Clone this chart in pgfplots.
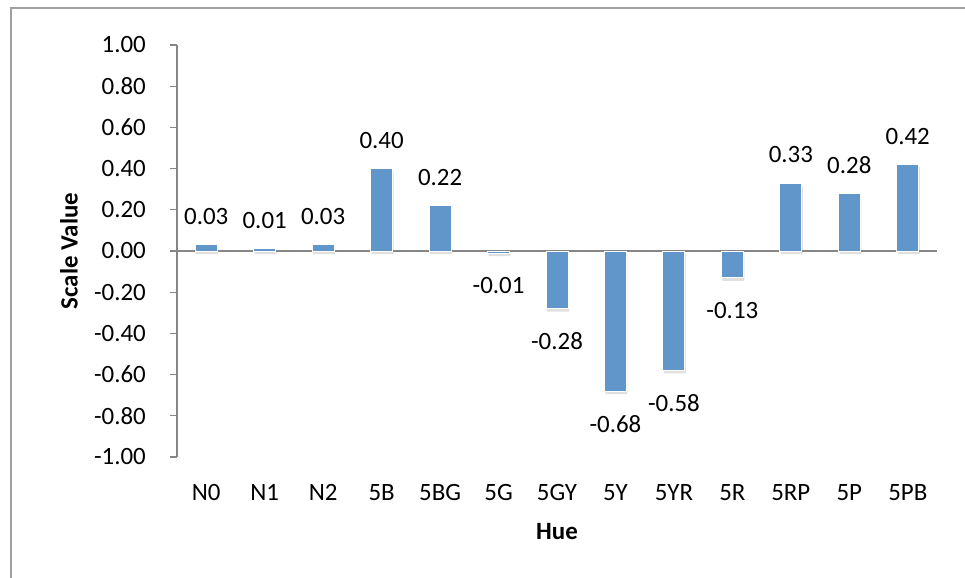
\documentclass[border=0pt]{standalone}
\usepackage{fontspec}
\setmainfont{Carlito}
\usepackage{pgfplots}
\pgfplotsset{compat=1.18}
\definecolor{barblue}{RGB}{96,150,201}
\definecolor{axgray}{RGB}{134,134,134}
\definecolor{framegray}{RGB}{160,160,160}
\newcommand{\chartfont}{\fontsize{25}{30}\selectfont}
\begin{document}
\begin{tikzpicture}
\useasboundingbox (0bp,0bp) rectangle (965bp,-578bp);
\draw[framegray, line width=2bp] (11bp,-578bp) -- (11bp,-7.5bp) -- (965bp,-7.5bp);
\begin{axis}[
  at={(177bp,-457bp)}, anchor=south west,
  scale only axis, width=760bp, height=412bp,
  xmin=-0.5, xmax=12.5, ymin=-1, ymax=1,
  clip=false,
  axis y line*=left, axis x line*=bottom,
  x axis line style={draw=none},
  y axis line style={axgray, line width=1.2bp},
  xtick={0,1,2,3,4,5,6,7,8,9,10,11,12},
  xticklabels={N0,N1,N2,5B,5BG,5G,5GY,5Y,5YR,5R,5RP,5P,5PB},
  x tick style={draw=none},
  ytick={-1,-0.8,-0.6,-0.4,-0.2,0,0.2,0.4,0.6,0.8,1},
  y tick style={axgray, line width=1.2bp},
  tick align=outside, major tick length=7bp,
  tick label style={font=\chartfont},
  yticklabel style={anchor=east, inner sep=0pt, xshift=-24bp},
  xticklabel style={anchor=base, inner sep=0pt, yshift=-36bp},
  /pgf/number format/.cd, fixed, fixed zerofill, precision=2, assume math mode=true,
  /pgfplots/.cd,
  xlabel={\bfseries Hue},
  ylabel={\bfseries Scale Value},
  every axis x label/.style={at={(axis description cs:0.5,0)}, anchor=center, yshift=-75bp, font=\chartfont},
  every axis y label/.style={at={(axis description cs:-0.1421,0.5)}, anchor=center, rotate=90, font=\chartfont},
  ybar, bar width=22bp,
]
\addplot[ybar, bar width=22bp, fill=black, opacity=0.12, draw=none, xshift=1bp, yshift=-3bp, forget plot]
  coordinates {(0,0.03) (1,0.01) (2,0.03) (3,0.40) (4,0.22) (5,-0.01) (6,-0.28) (7,-0.68) (8,-0.58) (9,-0.13) (10,0.33) (11,0.28) (12,0.42)};
\draw[axgray, line width=1.2bp] (axis cs:-0.5,0) -- (axis cs:12.5,0);
\addplot[ybar, bar width=22bp, fill=barblue, draw=white, line width=1bp,
  visualization depends on={y \as \rawy},
  nodes near coords,
  every node near coord/.append style={font=\chartfont, text=black, anchor=center, yshift={ifthenelse(\rawy>0,28.5,-33)}}]
  coordinates {(0,0.03) (1,0.01) (2,0.03) (3,0.40) (4,0.22) (5,-0.01) (6,-0.28) (7,-0.68) (8,-0.58) (9,-0.13) (10,0.33) (11,0.28) (12,0.42)};
\end{axis}
\end{tikzpicture}
\end{document}
